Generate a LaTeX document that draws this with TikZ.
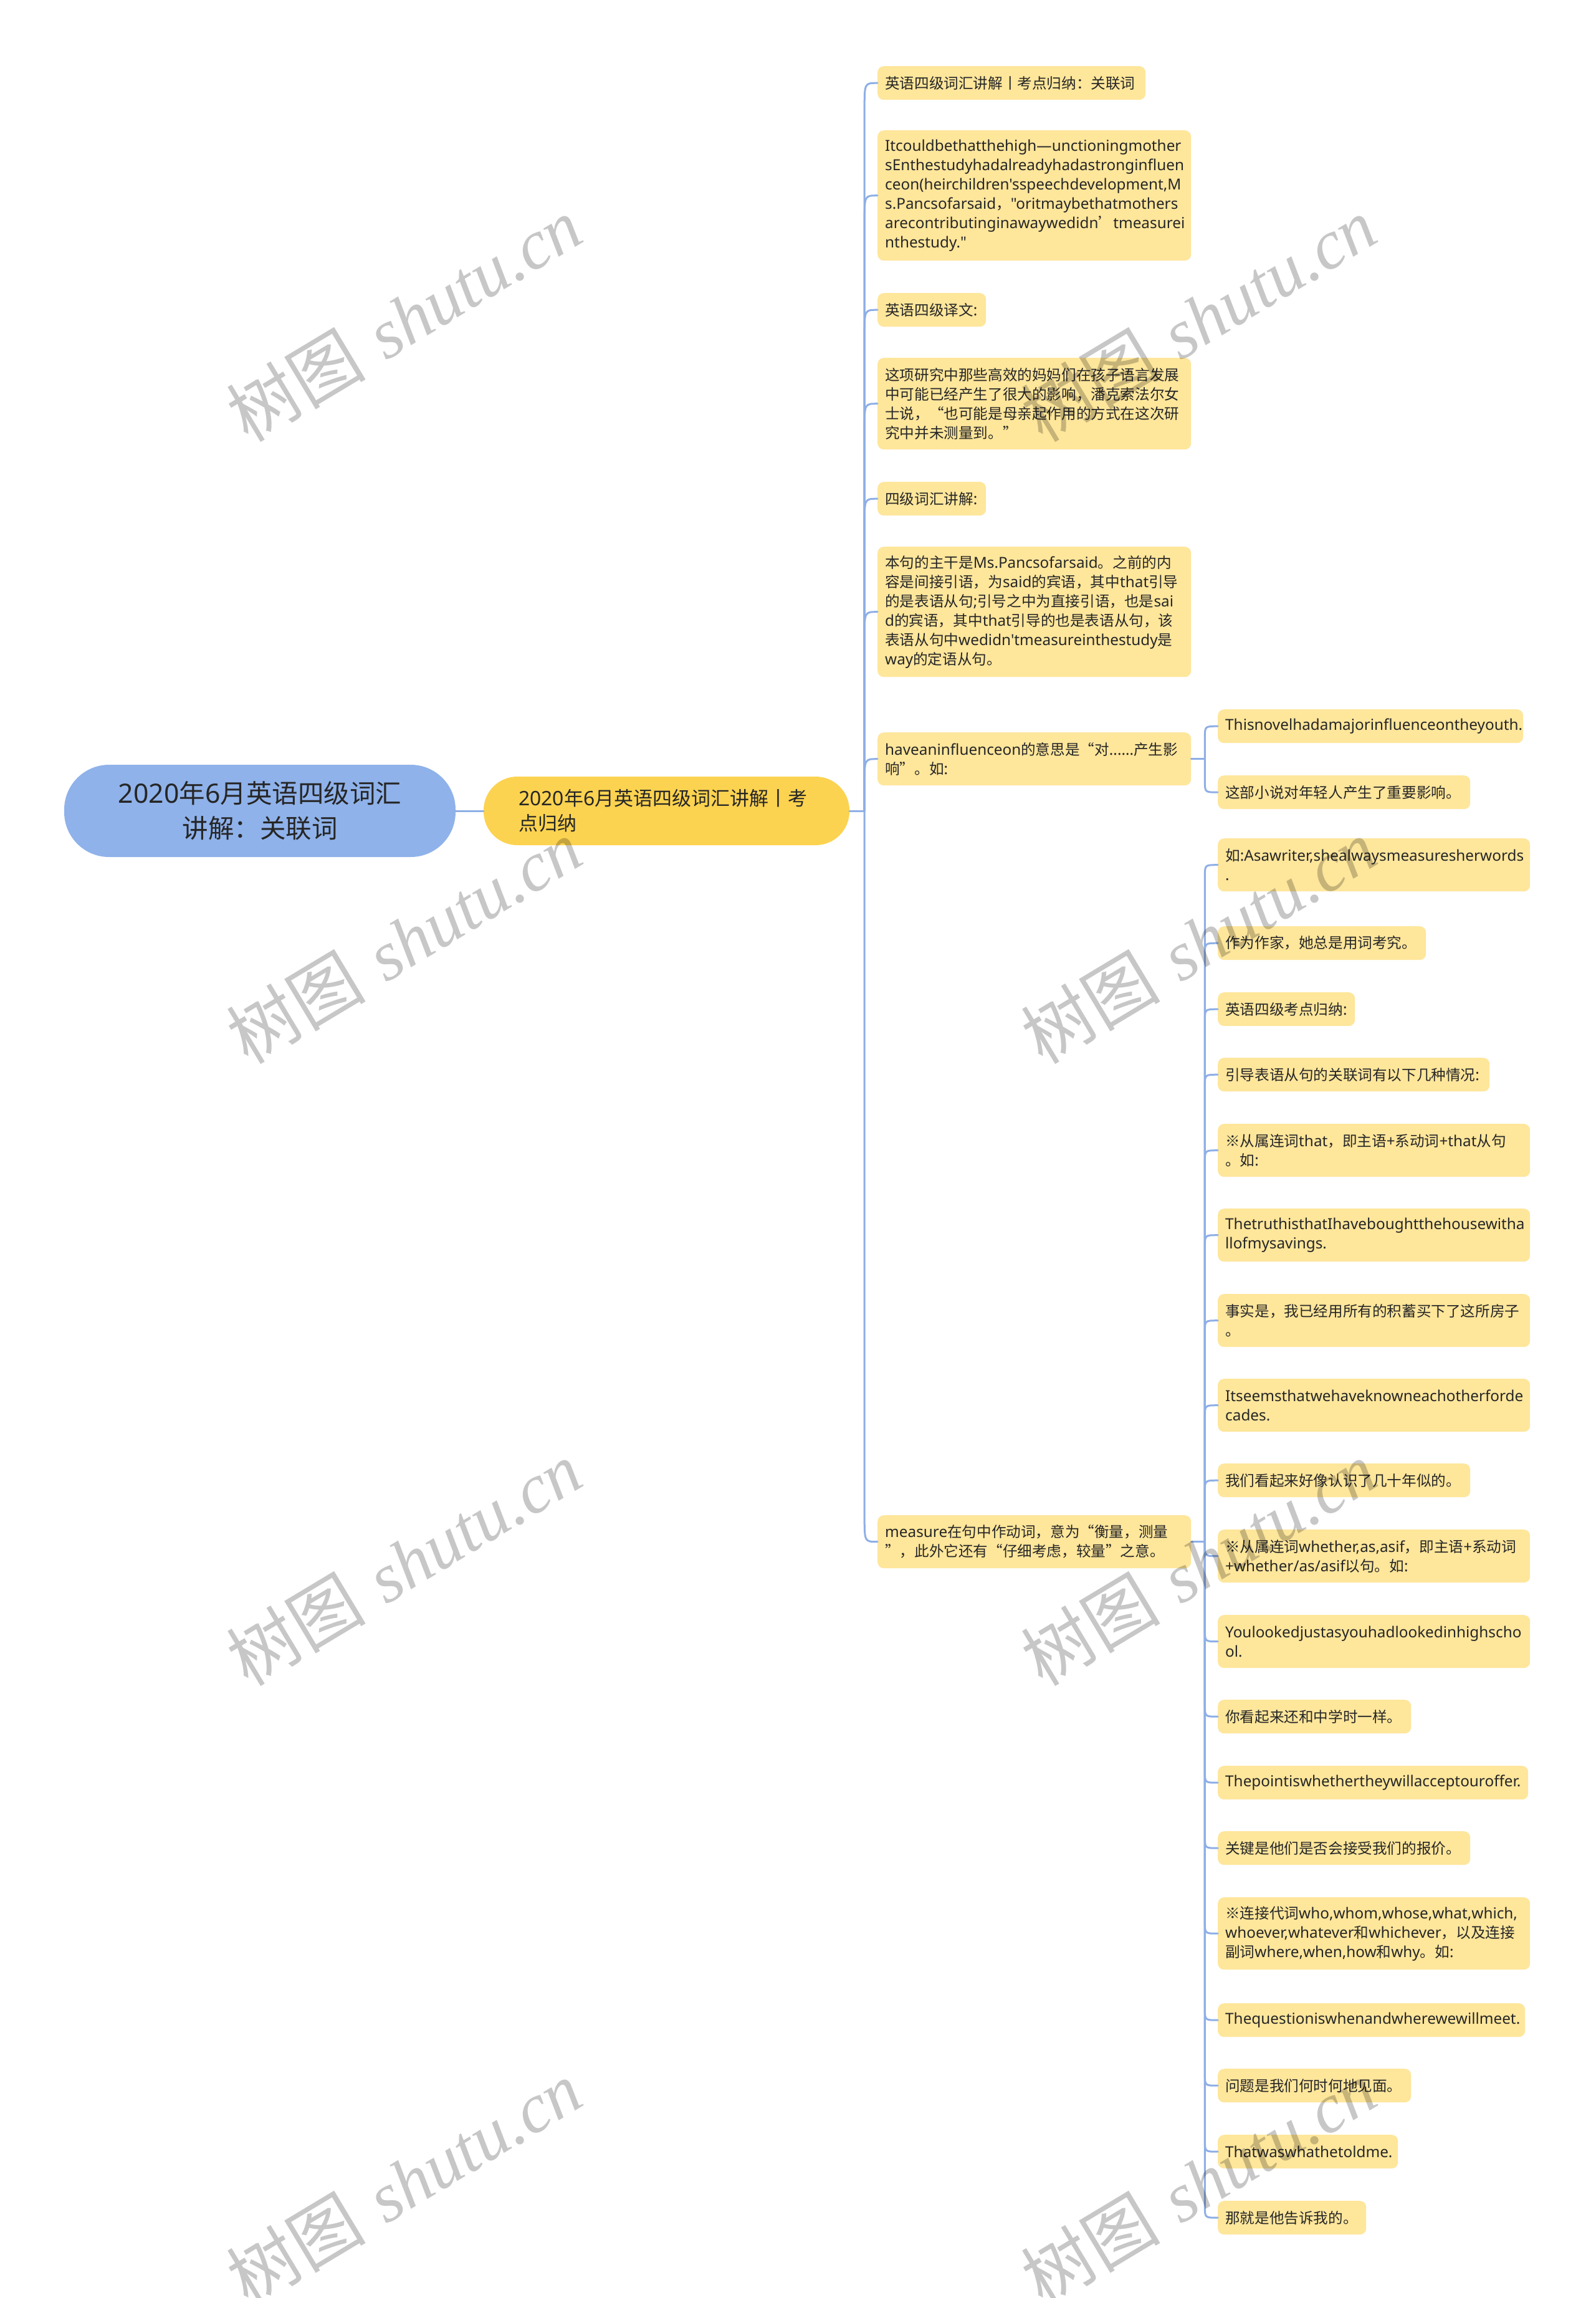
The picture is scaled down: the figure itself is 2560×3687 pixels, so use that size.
\documentclass[tikz,border=0pt]{standalone}
\usepackage{fontspec}
\setmainfont{Noto Sans}[Ligatures=TeXOff,Scale=1.03]
\newfontfamily\latf{Noto Sans}[Ligatures=TeXOff,Scale=1.03]
\newfontfamily\cjkf{Noto Sans CJK SC}
\newfontfamily\wmser{Liberation Serif}
\usetikzlibrary{calc}

% automatic switch between Latin and CJK fonts
\XeTeXinterchartokenstate=1
\newXeTeXintercharclass\CJKcls
\newcount\cjkcnt
\def\cjkrange#1#2{\cjkcnt=#1\relax
  \loop\XeTeXcharclass\cjkcnt=\CJKcls\relax
  \ifnum\cjkcnt<#2\relax\advance\cjkcnt by 1\relax\repeat}
\cjkrange{"4E00}{"9FFF}
\cjkrange{"3000}{"303F}
\cjkrange{"FF00}{"FFEF}
\cjkrange{"2018}{"201D}
\XeTeXcharclass"203B=\CJKcls
\XeTeXinterchartoks 0 \CJKcls = {\cjkf}
\XeTeXinterchartoks 4095 \CJKcls = {\cjkf}
\XeTeXinterchartoks \CJKcls 0 = {\latf}
\XeTeXinterchartoks 4095 0 = {\latf}

\definecolor{rootc}{HTML}{8FB2EA}
\definecolor{mainc}{HTML}{FCD350}
\definecolor{leafc}{HTML}{FEE69B}
\definecolor{linec}{HTML}{8EAFE6}
\definecolor{txt}{HTML}{262626}

\newcommand\rootfont{\fontsize{41.5}{56}\selectfont}
\newcommand\mainfont{\fontsize{31}{40}\selectfont}
\newcommand\leaffont{\fontsize{23.6}{31}\selectfont}
\newcommand\wmfont{\fontsize{112}{120}\selectfont}

\tikzset{
  rootn/.style={fill=rootc, rounded corners=72pt, minimum width=628pt, minimum height=148pt,
    inner sep=0pt, align=center, text=txt, font=\rootfont},
  mainn/.style={fill=mainc, rounded corners=54pt, text width=475pt, inner xsep=56pt, inner ysep=0pt,
    minimum height=110pt, align=left, text=txt, font=\mainfont},
  leaf/.style={fill=leafc, rounded corners=10pt, inner xsep=12pt, inner ysep=0pt,
    anchor=north west, align=left, text=txt, font=\leaffont},
  conn/.style={draw=linec, line width=3pt, line cap=round},
  wm/.style={rotate=31, text=black, text opacity=0.22, font=\wmfont, inner sep=0pt}
}

% \leaf{name}{x}{top}{width}{lines}{text}
\newcommand\leafnode[6]{\node[leaf, text width=#4pt-24pt, minimum height=23pt+31pt*#5] (#1) at (#2,#3) {#6};}
% \mlink{spine coordinate}{child}{offset}
\newcommand\mlink[3]{\draw[conn] (#1) -- ($(#1 |- #2.west)+(0,#3)$) .. controls (#1 |- #2.west) .. (#2.west);}

\begin{document}
\begin{tikzpicture}[x=1pt,y=-1pt]
\fill[white] (0,0) rectangle (2560,3687);
\useasboundingbox (0,0) rectangle (2560,3687);

\node[rootn] (root) at (417,1301) {2020年6月英语四级词汇\\讲解：关联词};
\node[mainn] (main) at (1069.5,1301) {2020年6月英语四级词汇讲解丨考\\点归纳};

\leafnode{b1}{1408}{106}{430}{1}{英语四级词汇讲解丨考点归纳：关联词}
\leafnode{b2}{1408}{209}{503}{6}{Itcouldbethatthehigh—unctioningmother\\sEnthestudyhadalreadyhadastronginfluen\\ceon(heirchildren'sspeechdevelopment,M\\s.Pancsofarsaid，"oritmaybethatmothers\\arecontributinginawaywedidn’tmeasurei\\nthestudy."}
\leafnode{b3}{1408}{470}{174}{1}{英语四级译文:}
\leafnode{b4}{1408}{574}{503}{4}{这项研究中那些高效的妈妈们在孩子语言发展\\中可能已经产生了很大的影响，潘克索法尔女\\士说，“也可能是母亲起作用的方式在这次研\\究中并未测量到。”}
\leafnode{b5}{1408}{773}{174}{1}{四级词汇讲解:}
\leafnode{b6}{1408}{877}{503}{6}{本句的主干是Ms.Pancsofarsaid。之前的内\\容是间接引语，为said的宾语，其中that引导\\的是表语从句;引号之中为直接引语，也是sai\\d的宾语，其中that引导的也是表语从句，该\\表语从句中wedidn'tmeasureinthestudy是\\way的定语从句。}
\leafnode{b7}{1408}{1175}{503}{2}{haveaninfluenceon的意思是“对......产生影\\响”。如:}
\leafnode{b8}{1408}{2431}{503}{2}{measure在句中作动词，意为“衡量，测量\\”，此外它还有“仔细考虑，较量”之意。}

\leafnode{c1}{1954}{1138}{490}{1}{Thisnovelhadamajorinfluenceontheyouth.}
\leafnode{c2}{1954}{1244}{405}{1}{这部小说对年轻人产生了重要影响。}

\leafnode{d1}{1954}{1345}{501}{2}{如:Asawriter,shealwaysmeasuresherwords\\.}
\leafnode{d2}{1954}{1486}{334}{1}{作为作家，她总是用词考究。}
\leafnode{d3}{1954}{1592}{220}{1}{英语四级考点归纳:}
\leafnode{d4}{1954}{1697}{436}{1}{引导表语从句的关联词有以下几种情况:}
\leafnode{d5}{1954}{1803}{501}{2}{※从属连词that，即主语+系动词+that从句\\。如:}
\leafnode{d6}{1954}{1939}{501}{2}{ThetruthisthatIhaveboughtthehousewitha\\llofmysavings.}
\leafnode{d7}{1954}{2076}{501}{2}{事实是，我已经用所有的积蓄买下了这所房子\\。}
\leafnode{d8}{1954}{2212}{501}{2}{Itseemsthatwehaveknowneachotherforde\\cades.}
\leafnode{d9}{1954}{2348}{405}{1}{我们看起来好像认识了几十年似的。}
\leafnode{d10}{1954}{2454}{501}{2}{※从属连词whether,as,asif，即主语+系动词\\+whether/as/asif以句。如:}
\leafnode{d11}{1954}{2591}{501}{2}{Youlookedjustasyouhadlookedinhighscho\\ol.}
\leafnode{d12}{1954}{2727}{310}{1}{你看起来还和中学时一样。}
\leafnode{d13}{1954}{2833}{498}{1}{Thepointiswhethertheywillacceptouroffer.}
\leafnode{d14}{1954}{2938}{405}{1}{关键是他们是否会接受我们的报价。}
\leafnode{d15}{1954}{3044}{501}{3}{※连接代词who,whom,whose,what,which,\\whoever,whatever和whichever，以及连接\\副词where,when,how和why。如:}
\leafnode{d16}{1954}{3214}{493}{1}{Thequestioniswhenandwherewewillmeet.}
\leafnode{d17}{1954}{3319}{310}{1}{问题是我们何时何地见面。}
\leafnode{d18}{1954}{3425}{289}{1}{Thatwaswhathetoldme.}
\leafnode{d19}{1954}{3531}{238}{1}{那就是他告诉我的。}

% connectors
\draw[conn] (root.east) -- (main.west);
\coordinate (sp1) at ($(main.east)+(24,0)$);
\draw[conn] (main.east) -- (sp1);
\mlink{sp1}{b1}{40}
\mlink{sp1}{b2}{40}
\mlink{sp1}{b3}{40}
\mlink{sp1}{b4}{40}
\mlink{sp1}{b5}{40}
\mlink{sp1}{b6}{40}
\mlink{sp1}{b7}{40}
\mlink{sp1}{b8}{-40}

\coordinate (sp7) at ($(b7.east)+(22,0)$);
\draw[conn] (b7.east) -- (sp7);
\mlink{sp7}{c1}{18}
\mlink{sp7}{c2}{-18}

\coordinate (sp8) at ($(b8.east)+(22,0)$);
\draw[conn] (b8.east) -- (sp8);
\mlink{sp8}{d1}{18}
\mlink{sp8}{d2}{18}
\mlink{sp8}{d3}{18}
\mlink{sp8}{d4}{18}
\mlink{sp8}{d5}{18}
\mlink{sp8}{d6}{18}
\mlink{sp8}{d7}{18}
\mlink{sp8}{d8}{18}
\mlink{sp8}{d9}{18}
\mlink{sp8}{d10}{-18}
\mlink{sp8}{d11}{-18}
\mlink{sp8}{d12}{-18}
\mlink{sp8}{d13}{-18}
\mlink{sp8}{d14}{-18}
\mlink{sp8}{d15}{-18}
\mlink{sp8}{d16}{-18}
\mlink{sp8}{d17}{-18}
\mlink{sp8}{d18}{-18}
\mlink{sp8}{d19}{-18}

% watermarks
\foreach \wx/\wy [count=\i] in {648/512, 1923/512, 648/1510, 1923/1510, 648/2508, 1923/2508, 648/3502, 1923/3502}{
  \node[wm] (wm\i) at (\wx,\wy) {\XeTeXinterchartokenstate=0 \cjkf 树图\hspace{0.3em}\wmser\itshape shutu.cn};
}
\end{tikzpicture}
\end{document}
